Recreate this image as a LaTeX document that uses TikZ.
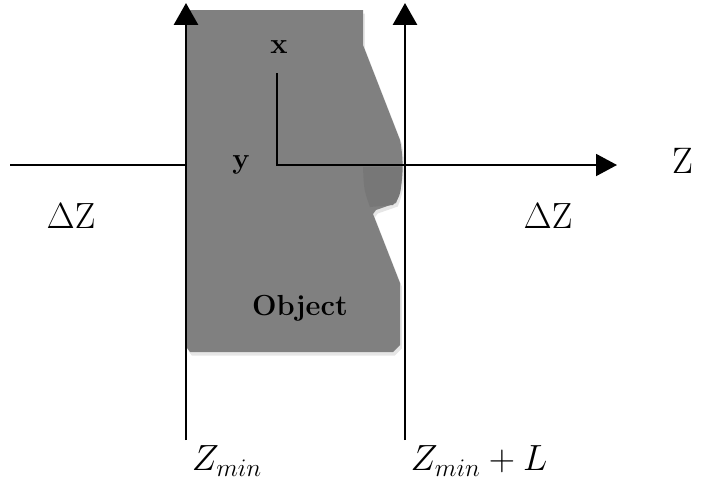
\documentclass[tikz,border=0pt]{standalone}
\usetikzlibrary{arrows.meta,shadows}
\begin{document}
\begin{tikzpicture}[x=0.02cm,y=-0.02cm,
  axis/.style={line width=1.1pt},
  zaxis/.style={axis,-{Triangle[length=0.42cm,width=0.44cm]}},
  bound/.style={line width=1.7pt,-{Triangle[length=0.44cm,width=0.48cm]}},
  lbl/.style={font=\fontsize{21}{25}\selectfont},
  bld/.style={font=\fontsize{16.5}{19}\selectfont\bfseries}]
  \useasboundingbox (0,0) rectangle (701,484);
  % object
  \fill[gray,drop shadow={shadow xshift=1pt,shadow yshift=-2pt,opacity=.2}]
    (187,10) -- (363,10) -- (363,45) -- (400,140) .. controls (404,160) and (404,185) .. (396,203)
    -- (376,210) -- (373,214) -- (400,283) -- (400,345) -- (393,352) -- (190,352) -- (187,348) -- cycle;
  \fill[gray!93!black] (363,167) .. controls (364,190) .. (370,207) -- (393,205)
    .. controls (401,195) .. (402,167) -- cycle;
  % axes
  \coordinate (lft) at (10,165);
  \coordinate (cut) at (187,165);
  \coordinate (o) at (277,165);
  \coordinate (tip) at (617,165);
  \coordinate (xtop) at (277,73);
  \draw[axis] (lft) -- (cut);
  \draw[zaxis] (xtop) -- (o) -- (tip);
  \coordinate (zmb) at (186,440);
  \coordinate (zmt) at (186,3);
  \coordinate (zlb) at (405,440);
  \coordinate (zlt) at (405,3);
  \draw[bound] (zmb) -- (zmt);
  \draw[bound] (zlb) -- (zlt);
  % labels
  \node[bld] (xlab) at (279,47) {x};
  \node[bld] (ylab) at (241,165) {y};
  \node[bld] (obj) at (300,308) {Object};
  \node[lbl] (zlab) at (683,161) {Z};
  \node[lbl] (dzl) at (71,216) {$\Delta\mathrm{Z}$};
  \node[lbl] (dzr) at (548,216) {$\Delta\mathrm{Z}$};
  \node[lbl] (zmin) at (227,461) {$Z_{min}$};
  \node[lbl] (zminl) at (479,461) {$Z_{min}+L$};
\end{tikzpicture}
\end{document}
